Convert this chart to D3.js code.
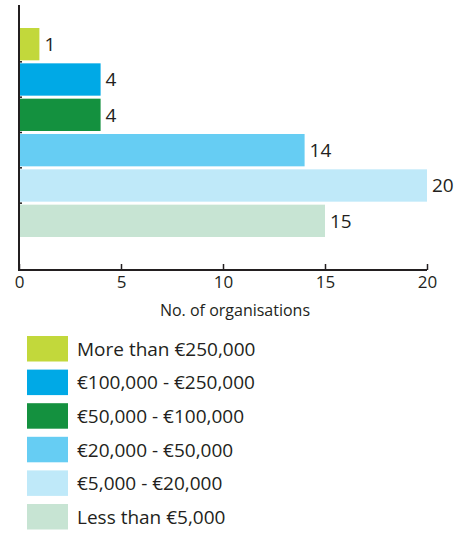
<!DOCTYPE html>
<html>
<head>
<meta charset="utf-8">
<script src="https://cdn.jsdelivr.net/npm/d3@7"></script>
<style>
  body { margin: 0; background: #fff; }
  text { font-family: "Open Sans", "Noto Sans", sans-serif; fill: #231f20; }
</style>
</head>
<body>
<div id="chart"></div>
<script>
const categories = [
  "More than €250,000",
  "€100,000 - €250,000",
  "€50,000 - €100,000",
  "€20,000 - €50,000",
  "€5,000 - €20,000",
  "Less than €5,000"
]
const counts = [1, 4, 4, 14, 20, 15]
const colours = ["#c2d83b", "#00a9e6", "#14913f", "#66cdf3", "#bfe9f9", "#c7e4d3"]
const xTicks = [0, 5, 10, 15, 20]

const width = 455, height = 534

const svg = d3.select("#chart").append("svg")
  .attr("width", width)
  .attr("height", height)

const x = d3.scaleLinear().domain([0, 20]).range([19, 427])
const y = d3.scaleBand().domain(categories).range([26.5, 238.5])
  .paddingInner(0.085).paddingOuter(0.0425)

// bars
svg.selectAll("rect.bar")
  .data(categories)
  .enter().append("rect")
  .attr("class", "bar")
  .attr("x", x(0))
  .attr("y", d => y(d))
  .attr("width", (d, i) => x(counts[i]) - x(0))
  .attr("height", y.bandwidth())
  .attr("fill", (d, i) => colours[i])

// value labels
svg.selectAll("text.val")
  .data(categories)
  .enter().append("text")
  .attr("class", "val")
  .attr("x", (d, i) => x(counts[i]) + 5)
  .attr("y", d => y(d) + y.bandwidth() / 2)
  .attr("dy", "0.36em")
  .style("font-size", "19px")
  .text((d, i) => counts[i])

// x axis
const xAxis = svg.append("g")
  .attr("transform", "translate(0,270)")
  .call(d3.axisBottom(x).tickValues(xTicks).tickSize(-6).tickPadding(6).tickFormat(d3.format("d")))
xAxis.select(".domain").attr("stroke", "#231f20").attr("stroke-width", 2).attr("d", "M19,0H427")
xAxis.selectAll(".tick line").attr("stroke", "#231f20").attr("stroke-width", 1.5)
xAxis.selectAll(".tick text").style("font-size", "17px").attr("fill", "#231f20")

// y axis line
svg.append("line")
  .attr("x1", x(0)).attr("x2", x(0))
  .attr("y1", 5).attr("y2", 271)
  .attr("stroke", "#231f20").attr("stroke-width", 2)

// small separators between bands
svg.selectAll("line.sep")
  .data(categories.slice(1))
  .enter().append("line")
  .attr("class", "sep")
  .attr("x1", x(0)).attr("x2", x(0) + 3)
  .attr("y1", d => y(d) - y.step() * y.paddingInner() / 2)
  .attr("y2", d => y(d) - y.step() * y.paddingInner() / 2)
  .attr("stroke", "#231f20").attr("stroke-width", 1.5)

// axis title
svg.append("text")
  .attr("x", 235)
  .attr("y", 316)
  .attr("text-anchor", "middle")
  .style("font-size", "16px")
  .text("No. of organisations")

// legend
const legend = svg.selectAll("g.legend")
  .data(categories)
  .enter().append("g")
  .attr("class", "legend")
  .attr("transform", (d, i) => "translate(27," + (336 + i * 33.6) + ")")

legend.append("rect")
  .attr("width", 41)
  .attr("height", 25.5)
  .attr("fill", (d, i) => colours[i])

legend.append("text")
  .attr("x", 50)
  .attr("y", 13)
  .attr("dy", "0.36em")
  .style("font-size", "19px")
  .text(d => d)
</script>
</body>
</html>
